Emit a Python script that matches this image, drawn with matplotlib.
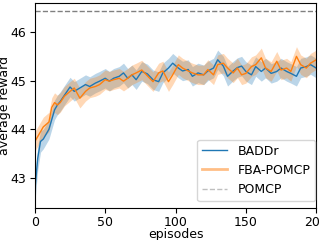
import matplotlib
matplotlib.use("Agg")
import matplotlib.pyplot as plt
from matplotlib.lines import Line2D
import numpy as np

episodes = [0, 2, 4, 6, 8, 10, 12, 14, 16, 18, 21, 25, 28, 32, 36, 39, 43, 46, 50, 53,
            56, 60, 63, 66, 69, 72, 76, 80, 84, 88, 91, 95, 98, 102, 105, 109, 112, 116,
            120, 123, 127, 130, 134, 137, 141, 144, 147, 150, 154, 157, 161, 164, 168,
            172, 175, 179, 182, 186, 189, 193, 196, 200]

baddr = [42.75, 43.4, 43.75, 43.8, 43.9, 44.0, 44.2, 44.4, 44.5, 44.57, 44.7, 44.87,
         44.78, 44.85, 44.92, 44.88, 44.95, 44.99, 45.05, 44.99, 45.05, 45.09, 45.16,
         45.05, 45.12, 45.02, 45.19, 45.14, 45.02, 44.98, 45.16, 45.26, 45.36, 45.26,
         45.2, 45.23, 45.09, 45.16, 45.12, 45.2, 45.26, 45.43, 45.3, 45.09, 45.2, 45.27,
         45.3, 45.19, 45.12, 45.29, 45.19, 45.26, 45.15, 45.19, 45.26, 45.19, 45.15,
         45.09, 45.26, 45.29, 45.33, 45.26]

fba = [43.75, 43.85, 43.95, 44.05, 44.1, 44.15, 44.45, 44.55, 44.5, 44.55, 44.68, 44.78,
       44.85, 44.64, 44.78, 44.85, 44.88, 44.92, 45.02, 44.99, 45.02, 45.05, 44.99,
       45.05, 45.12, 45.16, 45.22, 45.1, 44.98, 45.16, 45.2, 44.98, 45.12, 45.33, 45.26,
       45.2, 45.16, 45.12, 45.12, 45.23, 45.12, 45.33, 45.36, 45.26, 45.16, 45.26, 45.12,
       45.15, 45.29, 45.33, 45.47, 45.26, 45.19, 45.4, 45.22, 45.26, 45.19, 45.5, 45.33,
       45.26, 45.36, 45.43]

baddr_err = [0.25, 0.25, 0.22, 0.2] + [0.2] * (len(episodes) - 4)
fba_err = [0.2] * len(episodes)

pomcp = 46.43

fig = plt.figure(figsize=(3.2, 2.4), dpi=100)
ax = fig.add_axes([0.109, 0.133, 0.879, 0.855])

ep = np.array(episodes)
b = np.array(baddr)
f = np.array(fba)
be = np.array(baddr_err)
fe = np.array(fba_err)

ax.fill_between(ep, b - be, b + be, color='#1f77b4', alpha=0.3, lw=0)
ax.fill_between(ep, f - fe, f + fe, color='#ff7f0e', alpha=0.3, lw=0)
ax.plot(ep, b, color='#1f77b4', lw=1)
ax.plot(ep, f, color='#ff7f0e', lw=1)
ax.axhline(pomcp, color='#808080', lw=1, ls='--')

ax.set_xlim(0, 200)
ax.set_ylim(42.38, 46.6)
ax.set_xticks([0, 50, 100, 150, 200])
ax.set_yticks([43, 44, 45, 46])
ax.tick_params(labelsize=9, pad=2.5)
ax.set_xlabel('episodes', fontsize=9)
ax.set_ylabel('average reward', fontsize=9)
ax.xaxis.set_label_coords(0.5, -0.096)
ax.yaxis.set_label_coords(-0.085, 0.5)

handles = [Line2D([], [], color='#1f77b4', lw=1),
           Line2D([], [], color='#ff7f0e', lw=2, alpha=0.5),
           Line2D([], [], color='#808080', lw=1, ls='--', alpha=0.5)]
ax.legend(handles, ['BADDr', 'FBA-POMCP', 'POMCP'], loc='lower right', fontsize=9,
          bbox_to_anchor=(0.997, 0.034), borderaxespad=0)

fig.savefig('out.png', dpi=100)
